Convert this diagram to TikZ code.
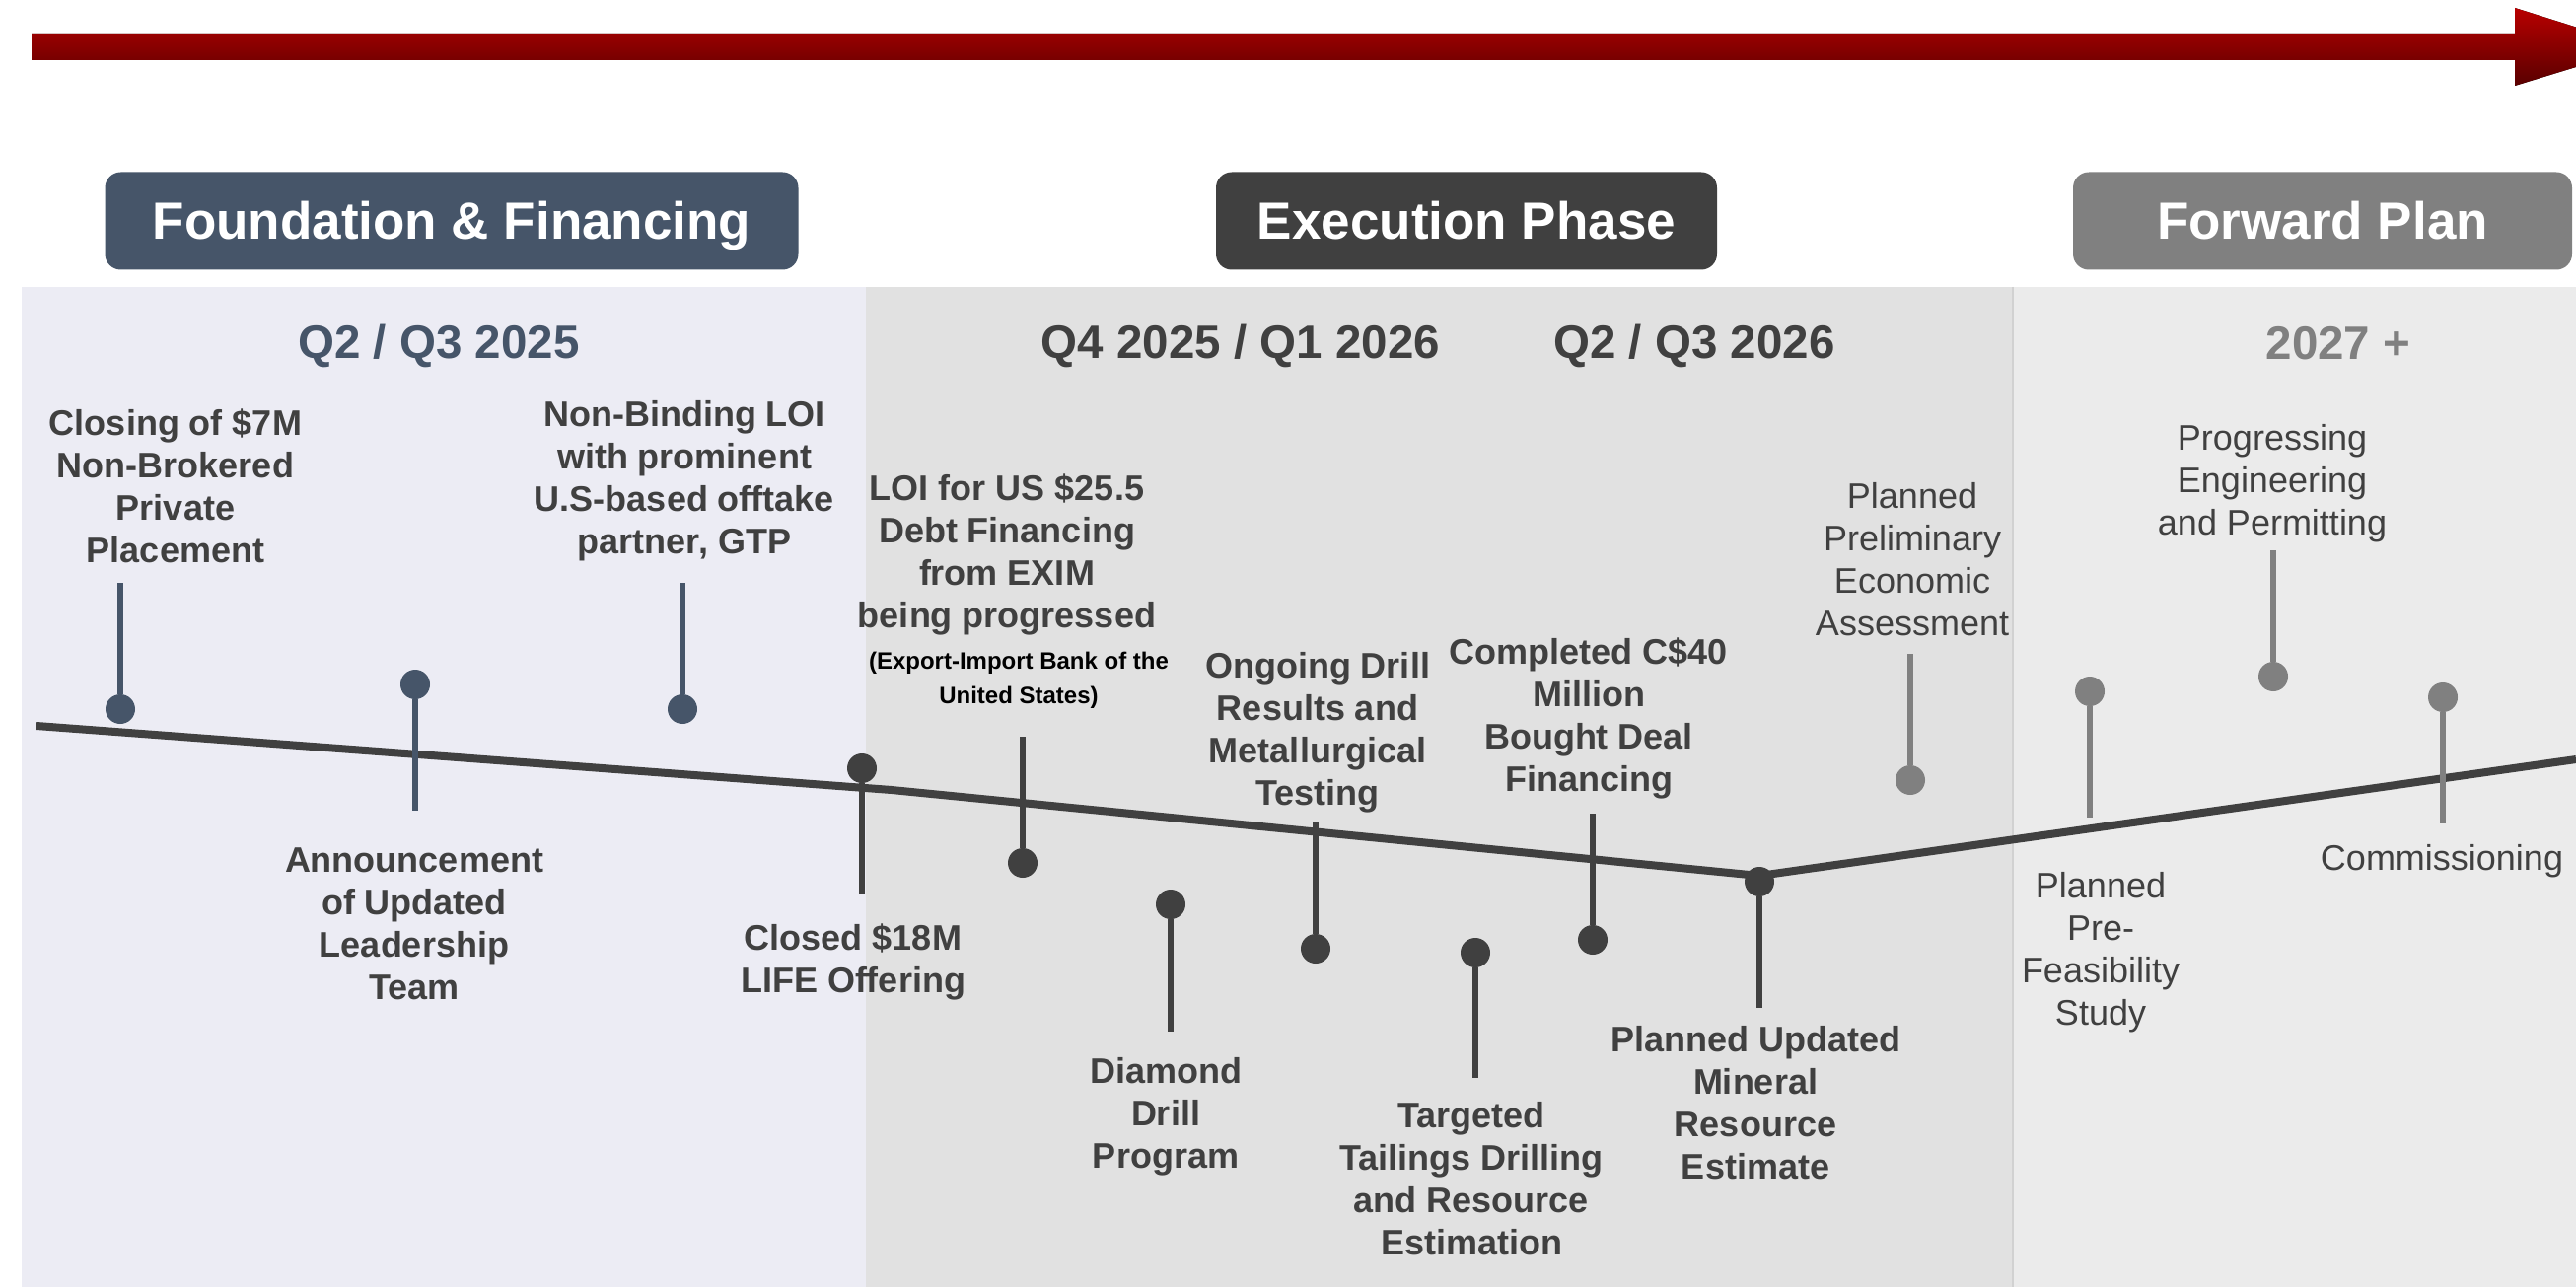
\documentclass[tikz,border=0pt]{standalone}
\usepackage{fontspec}
\setmainfont{Liberation Sans}
\usetikzlibrary{positioning,calc}
\definecolor{found}{HTML}{465569}
\definecolor{exec}{HTML}{404040}
\definecolor{fwd}{HTML}{808080}
\definecolor{bgfound}{HTML}{ECECF4}
\definecolor{bgexec}{HTML}{E1E1E1}
\definecolor{bgfwd}{HTML}{EBEBEB}
\definecolor{arrowtop}{HTML}{B80000}
\definecolor{arrowbot}{HTML}{580000}

\begin{document}
\begin{tikzpicture}[x=1pt,y=-1pt,
    phasebox/.style={fill=#1,rounded corners=16pt,minimum height=99pt,inner sep=0pt,text height=38pt,text depth=0pt,text=white,font=\fontsize{53}{60}\selectfont\bfseries},
    period/.style={text=#1,inner sep=0pt,font=\fontsize{47.5}{55}\selectfont\bfseries},
    milestone/.style={circle,fill=#1,minimum size=30pt,inner sep=0pt},
    stick/.style={draw=#1,line width=6pt},
    event/.style={align=center,text=exec,inner sep=0pt,font=\fontsize{36}{43}\selectfont\bfseries},
    plan/.style={align=center,text=exec,inner sep=0pt,font=\fontsize{36}{43}\selectfont}]
    \useasboundingbox (0,0) rectangle (2612,1305);
    \clip (0,0) rectangle (2612,1305);
    \fill[white] (0,0) rectangle (2612,1305);

    \fill[top color=arrowtop,bottom color=arrowbot] (32,34) -- (2550,34) -- (2550,8) -- (2677,48) -- (2550,87) -- (2550,61) -- (32,61) -- cycle;

    \node[phasebox=found,minimum width=703pt] (pfound) at (458,224) {Foundation \& Financing};
    \node[phasebox=exec,minimum width=508pt] (pexec) at (1487,224) {Execution Phase};
    \node[phasebox=fwd,minimum width=506pt] (pfwd) at (2355,224) {Forward Plan};

    \fill[bgfound] (22,291) rectangle (878,1305);
    \fill[bgexec] (878,291) rectangle (2041,1305);
    \fill[bgfwd] (2041,291) rectangle (2612,1305);
    \draw[black!18,line width=1.5pt] (2041,291) -- (2041,1305);

    \node[period=found] (qfound) at (445,351) {Q2 / Q3 2025};
    \node[period=exec] (qexeca) at (1258,351) {Q4 2025 / Q1 2026};
    \node[period=exec] (qexecb) at (1718,351) {Q2 / Q3 2026};
    \node[period=fwd] (qfwd) at (2371,348) {2027 +};

    \coordinate (t0) at (37,736);
    \coordinate (t1) at (904,801);
    \coordinate (tv) at (1784,888);
    \coordinate (t2) at (2612,770);
    \draw[exec,line width=8pt] (t0) -- (t1) -- (tv) -- (t2);

    \node[milestone=found] (m1) at (122,719) {};
    \node[milestone=found] (m2) at (421,694) {};
    \node[milestone=found] (m3) at (692,719) {};
    \node[milestone=exec] (m4) at (874,779) {};
    \node[milestone=exec] (m5) at (1037,875) {};
    \node[milestone=exec] (m6) at (1187,917) {};
    \node[milestone=exec] (m7) at (1334,962) {};
    \node[milestone=exec] (m8) at (1496,966) {};
    \node[milestone=exec] (m9) at (1615,953) {};
    \node[milestone=exec] (m10) at (1784,894) {};
    \node[milestone=fwd] (m11) at (1937,791) {};
    \node[milestone=fwd] (m12) at (2119,701) {};
    \node[milestone=fwd] (m13) at (2305,686) {};
    \node[milestone=fwd] (m14) at (2477,707) {};

    \coordinate (s1) at (122,591);
    \coordinate (s2) at (421,822);
    \coordinate (s3) at (692,591);
    \coordinate (s4) at (874,907);
    \coordinate (s5) at (1037,747);
    \coordinate (s6) at (1187,1046);
    \coordinate (s7) at (1334,833);
    \coordinate (s8) at (1496,1093);
    \coordinate (s9) at (1615,825);
    \coordinate (s10) at (1784,1022);
    \coordinate (s11) at (1937,663);
    \coordinate (s12) at (2119,829);
    \coordinate (s13) at (2305,558);
    \coordinate (s14) at (2477,835);

    \draw[stick=found] (m1) -- (s1);
    \draw[stick=found] (m2) -- (s2);
    \draw[stick=found] (m3) -- (s3);
    \draw[stick=exec] (m4) -- (s4);
    \draw[stick=exec] (m5) -- (s5);
    \draw[stick=exec] (m6) -- (s6);
    \draw[stick=exec] (m7) -- (s7);
    \draw[stick=exec] (m8) -- (s8);
    \draw[stick=exec] (m9) -- (s9);
    \draw[stick=exec] (m10) -- (s10);
    \draw[stick=fwd] (m11) -- (s11);
    \draw[stick=fwd] (m12) -- (s12);
    \draw[stick=fwd] (m13) -- (s13);
    \draw[stick=fwd] (m14) -- (s14);

    \node[event] (e1) at (178,493) {Closing of \$7M\\Non-Brokered\\Private\\Placement};
    \node[event] (e2) at (420,937) {Announcement\\of Updated\\Leadership\\Team};
    \node[event] (e3) at (694,488) {Non-Binding LOI\\with prominent\\U.S-based offtake\\partner, GTP};
    \node[event] (e4) at (865,975) {Closed \$18M\\LIFE Offering};
    \node[event] (e5) at (1021,562) {LOI for US \$25.5\\Debt Financing\\from EXIM\\being progressed};
    \node[align=center,inner sep=0pt,font=\fontsize{24}{35}\selectfont\bfseries] (e5note) at (1033,690) {(Export-Import Bank of the\\United States)};
    \node[event] (e6) at (1182,1132) {Diamond\\Drill\\Program};
    \node[event] (e7) at (1336,743) {Ongoing Drill\\Results and\\Metallurgical\\Testing};
    \node[event] (e8) at (1492,1195) {Targeted\\Tailings Drilling\\and Resource\\Estimation};
    \node[event] (e9) at (1611,728) {Completed C\$40\\Million\\Bought Deal\\Financing};
    \node[event] (e10) at (1780,1118) {Planned Updated\\Mineral\\Resource\\Estimate};
    \node[plan] (e11) at (1939,567) {Planned\\Preliminary\\Economic\\Assessment};
    \node[plan] (e12) at (2130,966) {Planned\\Pre-\\Feasibility\\Study};
    \node[plan] (e13) at (2304,490) {Progressing\\Engineering\\and Permitting};
    \node[plan] (e14) at (2476,873) {Commissioning};
\end{tikzpicture}
\end{document}
